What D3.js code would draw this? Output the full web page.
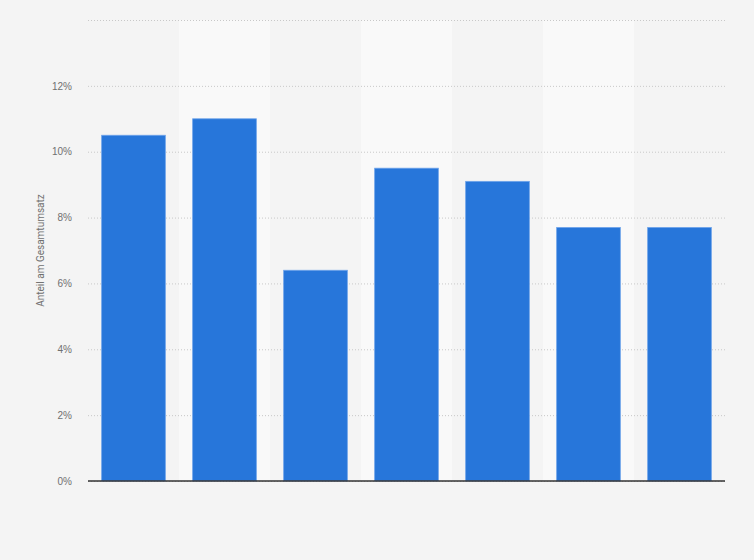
<!DOCTYPE html>
<html>
<head>
<meta charset="utf-8">
<script src="https://cdn.jsdelivr.net/npm/d3@7"></script>
<style>
  body { margin: 0; background: #f4f4f4; }
  svg { display: block; font-family: Roboto, Arial, sans-serif; }
</style>
</head>
<body>
<div id="chart"></div>
<script>
// values (share of total revenue, %)
var categories = ['A', 'B', 'C', 'D', 'E', 'F', 'G'];
var shares = [10.5, 11.0, 6.4, 9.5, 9.1, 7.7, 7.7];
var yTicks = [0, 2, 4, 6, 8, 10, 12, 14];
var yTitle = 'Anteil am Gesamtumsatz';

var outerWidth = 754;
var outerHeight = 560;
var margin = {left: 88, right: 29, top: 20, bottom: 79};
var innerWidth = outerWidth - margin.left - margin.right;
var innerHeight = outerHeight - margin.top - margin.bottom;

var svg = d3.select('#chart').append('svg')
            .attr('width', outerWidth)
            .attr('height', outerHeight);

svg.append('rect')
   .attr('width', outerWidth)
   .attr('height', outerHeight)
   .attr('fill', '#f4f4f4');

var g = svg.append('g')
           .attr('transform', 'translate(' + margin.left + ',' + margin.top + ')');

var xBand = d3.scaleBand()
              .domain(categories)
              .range([0, innerWidth]);
var xScale = d3.scaleBand()
               .domain(categories)
               .range([0, innerWidth])
               .paddingInner(0.3)
               .paddingOuter(0.15);
var yScale = d3.scaleLinear()
               .domain([0, 14])
               .range([innerHeight, 0]);

// alternating column bands
g.selectAll('.band')
 .data(categories.filter(function(d, i){ return i % 2 === 1; }))
 .enter().append('rect')
 .attr('class', 'band')
 .attr('x', function(d){ return xBand(d); })
 .attr('y', 0)
 .attr('width', xBand.bandwidth())
 .attr('height', innerHeight)
 .attr('fill', '#f9f9f9');

// gridlines
var yAxis = d3.axisLeft(yScale)
              .tickValues(yTicks)
              .tickSize(-innerWidth)
              .tickPadding(16)
              .tickFormat(function(d){ return d + '%'; });
var yAxisG = g.append('g').call(yAxis);
yAxisG.select('.domain').remove();
yAxisG.selectAll('.tick line')
      .attr('stroke', '#c8c8c8')
      .attr('stroke-dasharray', '1,2');
yAxisG.selectAll('.tick text')
      .attr('fill', '#707070')
      .attr('font-size', '10px');
// top gridline carries no label
yAxisG.selectAll('.tick')
      .filter(function(d){ return d === 14; })
      .select('text').remove();

// bars
g.selectAll('.bar')
 .data(shares)
 .enter().append('rect')
 .attr('class', 'bar')
 .attr('x', function(d, i){ return xScale(categories[i]); })
 .attr('y', function(d){ return yScale(d); })
 .attr('width', xScale.bandwidth())
 .attr('height', function(d){ return innerHeight - yScale(d); })
 .attr('fill', '#2776da')
 .attr('stroke', '#6fa4ea')
 .attr('stroke-width', 0.8);

// baseline
g.append('line')
 .attr('x1', 0)
 .attr('x2', innerWidth)
 .attr('y1', yScale(0))
 .attr('y2', yScale(0))
 .attr('stroke', '#333')
 .attr('stroke-width', 1.5);

// y title
svg.append('text')
   .attr('transform', 'translate(44,' + (margin.top + yScale(7)) + ') rotate(-90)')
   .attr('text-anchor', 'middle')
   .attr('fill', '#707070')
   .attr('font-size', '10px')
   .text(yTitle);
</script>
</body>
</html>
